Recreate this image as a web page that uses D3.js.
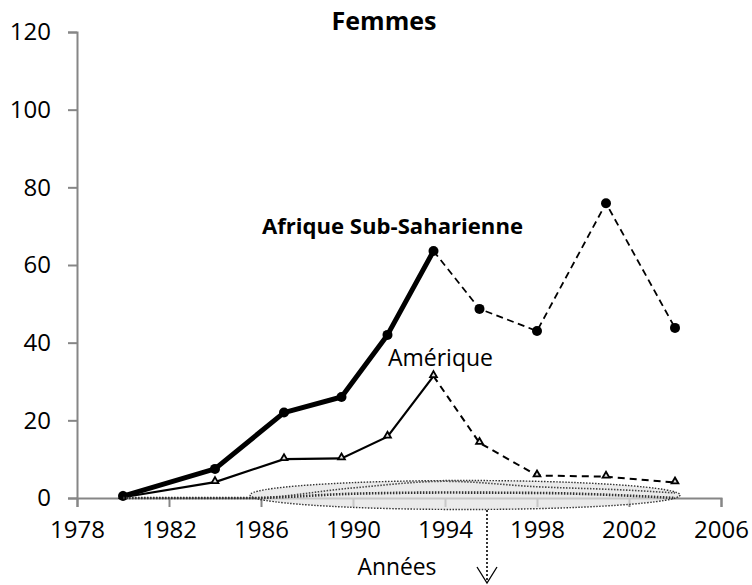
<!DOCTYPE html>
<html>
  <head>
    <meta charset="utf-8">
    <title>Femmes</title>
    <style type="text/css">
body { margin: 0; background: #fff; }
svg text { font-family: "Open Sans", sans-serif; fill: #000; }
    </style>
    <script type="text/javascript" src="https://cdn.jsdelivr.net/npm/d3@7/dist/d3.min.js"></script>
  </head>
  <body>
    <div id="chart"></div>
    <script type="text/javascript">
      // Data
      var xTicks = [1978, 1982, 1986, 1990, 1994, 1998, 2002, 2006];
      var yTicks = [0, 20, 40, 60, 80, 100, 120];

      var afriqueYears  = [1980, 1984, 1987, 1989.5, 1991.5, 1993.5, 1995.5, 1998, 2001, 2004];
      var afriqueValues = [0.5, 7.5, 22, 26, 42, 63.6, 48.7, 43, 75.9, 43.8];
      var afriqueSolidCount = 6;   // first six points solid, rest dashed

      var ameriqueYears  = [1980, 1984, 1987, 1989.5, 1991.5, 1993.5, 1995.5, 1998, 2001, 2004];
      var ameriqueValues = [0.2, 4.1, 10, 10.2, 15.8, 31.4, 14.2, 5.8, 5.5, 4];
      var ameriqueSolidCount = 6;

      // the two series hidden near zero, inside the ellipse
      var autresYears   = [1980, 1984, 1985.5, 1990, 1994, 1998, 2002, 2004];
      var autres1Values = [0, 0, 0, 2.6, 4.3, 2.9, 2, 1.3];
      var autres2Values = [0, 0, 0, 1.1, 1.4, 1.3, 0.6, 0];

      var titre = "Femmes";
      var labelAfrique = "Afrique Sub-Saharienne";
      var labelAmerique = "Amérique";
      var labelX = "Années";

      var W = 752, H = 585;
      var svg = d3.select("#chart").append("svg")
          .attr("width", W)
          .attr("height", H);

      var x = d3.scaleLinear().domain([1978, 2006]).range([77, 721]);
      var y = d3.scaleLinear().domain([0, 120]).range([498, 32]);

      var axisColor = "#868686";

      // shrink/grow a text's font so it spans the given width
      function fit(sel, width) {
        sel.each(function() {
          var fs = parseFloat(this.style.fontSize);
          var len = this.getComputedTextLength();
          this.style.fontSize = (fs * width / len).toFixed(2) + "px";
        });
        return sel;
      }

      // y axis
      var gy = svg.append("g")
          .attr("transform", "translate(" + x(1978) + ",0)")
          .call(d3.axisLeft(y).tickValues(yTicks).tickSize(9).tickPadding(17));
      gy.select(".domain").attr("stroke", axisColor).attr("stroke-width", 2);
      gy.selectAll(".tick line").attr("stroke", axisColor).attr("stroke-width", 2);
      gy.selectAll(".tick text").style("font-size", "24px").style("font-family", "Open Sans");

      // x axis
      var gx = svg.append("g")
          .attr("transform", "translate(0," + y(0) + ")")
          .call(d3.axisBottom(x).tickValues(xTicks).tickFormat(d3.format("d")).tickSize(9).tickPadding(14));
      gx.select(".domain").attr("stroke", axisColor).attr("stroke-width", 2);
      gx.selectAll(".tick line").attr("stroke", axisColor).attr("stroke-width", 2);
      gx.selectAll(".tick text").style("font-size", "24px").style("font-family", "Open Sans");

      var line = d3.line().x(function(d) { return x(d[0]); }).y(function(d) { return y(d[1]); });

      function pts(years, values) {
        return years.map(function(yr, i) { return [yr, values[i]]; });
      }

      var afr = pts(afriqueYears, afriqueValues);
      var ame = pts(ameriqueYears, ameriqueValues);

      // Amérique
      svg.append("path")
          .attr("d", line(ame.slice(0, ameriqueSolidCount)))
          .attr("fill", "none").attr("stroke", "#000").attr("stroke-width", 2.2);
      svg.append("path")
          .attr("d", line(ame.slice(ameriqueSolidCount - 1)))
          .attr("fill", "none").attr("stroke", "#000").attr("stroke-width", 2)
          .attr("stroke-dasharray", "7,5");
      svg.selectAll(".tri")
          .data(ame)
          .enter().append("path")
          .attr("class", "tri")
          .attr("d", d3.symbol().type(d3.symbolTriangle).size(20))
          .attr("transform", function(d) { return "translate(" + x(d[0]) + "," + (y(d[1]) - 1) + ")"; })
          .attr("fill", "#ddd").attr("stroke", "#000").attr("stroke-width", 1.8);

      // Afrique Sub-Saharienne
      svg.append("path")
          .attr("d", line(afr.slice(0, afriqueSolidCount)))
          .attr("fill", "none").attr("stroke", "#000").attr("stroke-width", 5)
          .attr("stroke-linejoin", "round");
      svg.append("path")
          .attr("d", line(afr.slice(afriqueSolidCount - 1)))
          .attr("fill", "none").attr("stroke", "#000").attr("stroke-width", 1.8)
          .attr("stroke-dasharray", "7,4.5");
      svg.selectAll(".dot")
          .data(afr)
          .enter().append("circle")
          .attr("class", "dot")
          .attr("cx", function(d) { return x(d[0]); })
          .attr("cy", function(d) { return y(d[1]); })
          .attr("r", 5)
          .attr("fill", "#000");

      // the grey ellipse over the near-zero series
      svg.append("ellipse")
          .attr("cx", 465).attr("cy", 495)
          .attr("rx", 215).attr("ry", 14.5)
          .attr("fill", "#e3e3e3").attr("fill-opacity", 0.7)
          .attr("stroke", "#333").attr("stroke-width", 1.4)
          .attr("stroke-dasharray", "1.5,1.5");

      var curve = d3.line().curve(d3.curveMonotoneX)
          .x(function(d) { return x(d[0]); }).y(function(d) { return y(d[1]); });
      svg.append("path")
          .attr("d", curve(pts(autresYears, autres1Values)))
          .attr("fill", "none").attr("stroke", "#444").attr("stroke-width", 1.6)
          .attr("stroke-dasharray", "1.5,1.5");
      svg.append("path")
          .attr("d", curve(pts(autresYears, autres2Values)))
          .attr("fill", "none").attr("stroke", "#333").attr("stroke-width", 2.6)
          .attr("stroke-dasharray", "1.5,1.5");

      // dotted arrow down from the ellipse
      svg.append("line")
          .attr("x1", 487).attr("y1", 510).attr("x2", 487).attr("y2", 582)
          .attr("stroke", "#000").attr("stroke-width", 1.6)
          .attr("stroke-dasharray", "2,2");
      svg.append("path")
          .attr("d", "M477,567 L487,583 L497,567")
          .attr("fill", "none").attr("stroke", "#000").attr("stroke-width", 1.3);

      // texts
      fit(svg.append("text")
          .attr("x", 384).attr("y", 30)
          .attr("text-anchor", "middle")
          .style("font-size", "24px").style("font-weight", "bold")
          .text(titre), 105);
      fit(svg.append("text")
          .attr("x", 262).attr("y", 234)
          .style("font-size", "22px").style("font-weight", "bold")
          .text(labelAfrique), 261);
      fit(svg.append("text")
          .attr("x", 388).attr("y", 366)
          .style("font-size", "22px")
          .text(labelAmerique), 105);
      fit(svg.append("text")
          .attr("x", 397).attr("y", 575)
          .attr("text-anchor", "middle")
          .style("font-size", "22px")
          .text(labelX), 79);
    </script>
  </body>
</html>
